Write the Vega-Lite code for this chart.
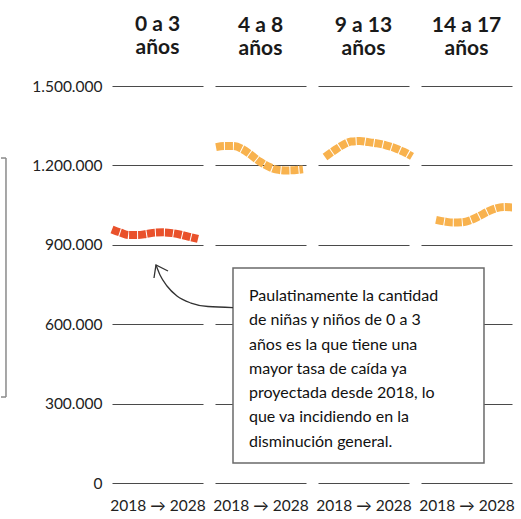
{
  "$schema": "https://vega.github.io/schema/vega-lite/v6.json",
  "padding": {"left": 0, "top": 14, "right": 0, "bottom": 0},
  "background": "white",
  "spacing": 12,
  "bounds": "flush",
  "config": {
    "locale": {"number": {"decimal": ",", "thousands": ".", "grouping": [3], "currency": ["$", ""]}},
    "font": "Lato",
    "view": {"stroke": null},
    "axis": {"domain": false, "ticks": false, "gridColor": "#4a4a4a", "gridWidth": 1.2, "gridOpacity": 1, "labelFont": "Lato", "labelColor": "#222", "labelFontSize": 15.5, "titleFont": "Lato", "titleFontWeight": "normal", "titleColor": "#222", "titleFontSize": 15.5},
    "title": {"font": "Lato", "fontSize": 21, "fontWeight": "bold", "color": "#1a1a1a", "anchor": "middle", "lineHeight": 23, "offset": 27}
  },
  "hconcat": [
    {
      "width": 91, "height": 397,
      "title": {"text": ["0 a 3", "años"], "offset": 21},
      "layer": [
        {
          "data": {"values": [
            {"year": 2018, "value": 958000}, {"year": 2019, "value": 946000}, {"year": 2020, "value": 937000},
            {"year": 2021, "value": 937000}, {"year": 2022, "value": 941000}, {"year": 2023, "value": 946000},
            {"year": 2024, "value": 947000}, {"year": 2025, "value": 944000}, {"year": 2026, "value": 938000},
            {"year": 2027, "value": 930000}, {"year": 2028, "value": 922000}
          ]},
          "mark": {"type": "line", "interpolate": "monotone", "strokeWidth": 8, "color": "#E9512B", "strokeDash": [8, 1], "strokeCap": "butt"},
          "encoding": {
            "x": {"field": "year", "type": "quantitative", "scale": {"domain": [2018, 2028.58], "nice": false, "zero": false}, "axis": {"title": "2018 → 2028", "labels": false, "grid": false, "titlePadding": 15}},
            "y": {"field": "value", "type": "quantitative", "scale": {"domain": [0, 1500000], "nice": false}, "axis": {"values": [0, 300000, 600000, 900000, 1200000, 1500000], "format": ",d", "title": null, "labelPadding": 10, "grid": true}}
          }
        },
        {
          "data": {"values": [{}]},
          "mark": {"type": "rule", "color": "#8a8a8a", "strokeWidth": 1.5},
          "encoding": {
            "x": {"datum": 2005.674, "type": "quantitative"},
            "y": {"datum": 1227900, "type": "quantitative"},
            "y2": {"datum": 324900}
          }
        },
        {
          "data": {"values": [{}]},
          "mark": {"type": "rule", "color": "#8a8a8a", "strokeWidth": 1.5},
          "encoding": {
            "x": {"datum": 2005.093, "type": "quantitative"},
            "x2": {"datum": 2005.674},
            "y": {"datum": 1227900, "type": "quantitative"}
          }
        },
        {
          "data": {"values": [{}]},
          "mark": {"type": "rule", "color": "#8a8a8a", "strokeWidth": 1.5},
          "encoding": {
            "x": {"datum": 2005.093, "type": "quantitative"},
            "x2": {"datum": 2005.674},
            "y": {"datum": 324900, "type": "quantitative"}
          }
        }
      ]
    },
    {
      "width": 91, "height": 397,
      "title": {"text": ["4 a 8", "años"]},
      "data": {"values": [
        {"year": 2018, "value": 1269000}, {"year": 2019, "value": 1273000}, {"year": 2020, "value": 1273000},
        {"year": 2021, "value": 1262000}, {"year": 2022, "value": 1240000}, {"year": 2023, "value": 1215000},
        {"year": 2024, "value": 1196000}, {"year": 2025, "value": 1184000}, {"year": 2026, "value": 1181000},
        {"year": 2027, "value": 1182000}, {"year": 2028, "value": 1185000}
      ]},
      "mark": {"type": "line", "interpolate": "monotone", "strokeWidth": 8, "color": "#F8B24E", "strokeDash": [8, 1], "strokeCap": "butt"},
      "encoding": {
        "x": {"field": "year", "type": "quantitative", "scale": {"domain": [2017.885, 2028.345], "nice": false, "zero": false}, "axis": {"title": "2018 → 2028", "labels": false, "grid": false, "titlePadding": 15}},
        "y": {"field": "value", "type": "quantitative", "scale": {"domain": [0, 1500000], "nice": false}, "axis": {"values": [0, 300000, 600000, 900000, 1200000, 1500000], "labels": false, "title": null, "grid": true}}
      }
    },
    {
      "width": 91, "height": 397,
      "title": {"text": ["9 a 13", "años"]},
      "data": {"values": [
        {"year": 2018, "value": 1232000}, {"year": 2019, "value": 1255000}, {"year": 2020, "value": 1276000},
        {"year": 2021, "value": 1290000}, {"year": 2022, "value": 1292000}, {"year": 2023, "value": 1288000},
        {"year": 2024, "value": 1283000}, {"year": 2025, "value": 1276000}, {"year": 2026, "value": 1266000},
        {"year": 2027, "value": 1252000}, {"year": 2028, "value": 1234000}
      ]},
      "mark": {"type": "line", "interpolate": "monotone", "strokeWidth": 8, "color": "#F8B24E", "strokeDash": [8, 1], "strokeCap": "butt"},
      "encoding": {
        "x": {"field": "year", "type": "quantitative", "scale": {"domain": [2017.195, 2027.655], "nice": false, "zero": false}, "axis": {"title": "2018 → 2028", "labels": false, "grid": false, "titlePadding": 15}},
        "y": {"field": "value", "type": "quantitative", "scale": {"domain": [0, 1500000], "nice": false}, "axis": {"values": [0, 300000, 600000, 900000, 1200000, 1500000], "labels": false, "title": null, "grid": true}}
      }
    },
    {
      "width": 91, "height": 397,
      "title": {"text": ["14 a 17", "años"]},
      "layer": [
        {
          "data": {"values": [
            {"year": 2018, "value": 994000}, {"year": 2019, "value": 988000}, {"year": 2020, "value": 984000},
            {"year": 2021, "value": 985000}, {"year": 2022, "value": 993000}, {"year": 2023, "value": 1008000},
            {"year": 2024, "value": 1025000}, {"year": 2025, "value": 1038000}, {"year": 2026, "value": 1043000},
            {"year": 2027, "value": 1040000}, {"year": 2028, "value": 1030000}
          ]},
          "mark": {"type": "line", "interpolate": "monotone", "strokeWidth": 8, "color": "#F8B24E", "strokeDash": [8, 1], "strokeCap": "butt", "clip": true},
          "encoding": {
            "x": {"field": "year", "type": "quantitative", "scale": {"domain": [2016.256, 2026.837], "nice": false, "zero": false}, "axis": {"title": "2018 → 2028", "labels": false, "grid": false, "titlePadding": 15}},
            "y": {"field": "value", "type": "quantitative", "scale": {"domain": [0, 1500000], "nice": false}, "axis": {"values": [0, 300000, 600000, 900000, 1200000, 1500000], "labels": false, "title": null, "grid": true}}
          }
        },
        {
          "data": {"values": [{}]},
          "mark": {"type": "rect", "fill": "white", "stroke": "#6a6a6a", "strokeWidth": 1.5},
          "encoding": {
            "x": {"datum": 1994.396, "type": "quantitative"},
            "x2": {"datum": 2023.58},
            "y": {"datum": 812300, "type": "quantitative"},
            "y2": {"datum": 75600}
          }
        },
        {
          "data": {"values": [{}]},
          "mark": {"type": "text", "align": "left", "baseline": "top", "fontSize": 16, "lineHeight": 24.3, "color": "#111", "font": "Lato",
            "text": ["Paulatinamente la cantidad", "de niñas y niños de 0 a 3", "años es la que tiene una", "mayor tasa de caída ya", "proyectada desde 2018, lo", "que va incidiendo en la", "disminución general."]},
          "encoding": {
            "x": {"datum": 1996.256, "type": "quantitative"},
            "y": {"datum": 736800, "type": "quantitative"}
          }
        },
        {
          "data": {"values": [
            {"year": 1985.44, "value": 823600}, {"year": 1985.91, "value": 785800}, {"year": 1986.72, "value": 744300},
            {"year": 1987.88, "value": 706500}, {"year": 1989.51, "value": 680000}, {"year": 1991.49, "value": 666800},
            {"year": 1994.40, "value": 663000}
          ]},
          "mark": {"type": "line", "interpolate": "monotone", "color": "#333", "strokeWidth": 1.3},
          "encoding": {
            "x": {"field": "year", "type": "quantitative"},
            "y": {"field": "value", "type": "quantitative"}
          }
        },
        {
          "data": {"values": [
            {"year": 1985.21, "value": 774500}, {"year": 1985.44, "value": 823600}, {"year": 1986.84, "value": 800900}
          ]},
          "mark": {"type": "line", "color": "#333", "strokeWidth": 1.3},
          "encoding": {
            "x": {"field": "year", "type": "quantitative"},
            "y": {"field": "value", "type": "quantitative"}
          }
        }
      ]
    }
  ]
}
